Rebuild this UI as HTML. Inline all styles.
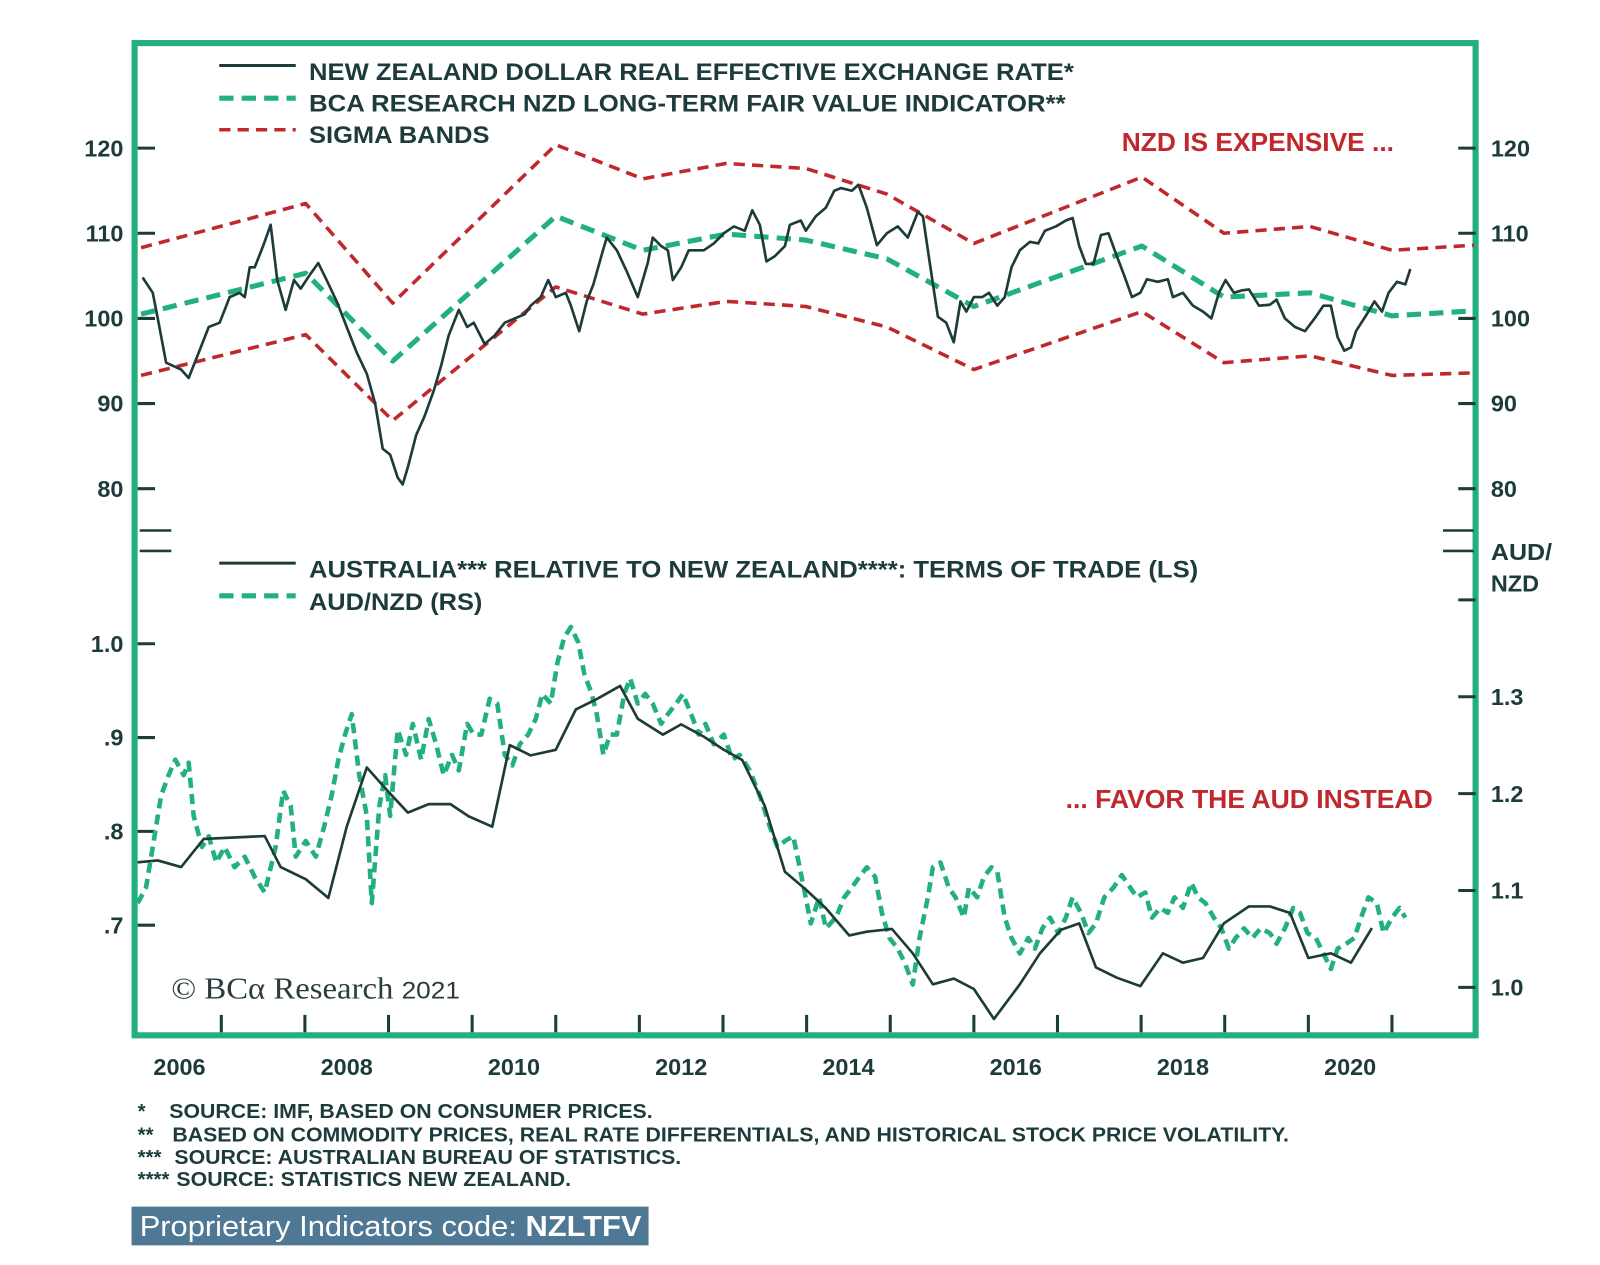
<!DOCTYPE html>
<html><head><meta charset="utf-8"><style>
html,body{margin:0;padding:0;background:#fff;}
svg{display:block;font-family:"Liberation Sans",sans-serif;}
.t{font-weight:bold;fill:#1e3b3b;}
</style></head><body>
<svg id="chart" width="1600" height="1265" viewBox="0 0 1569 1240" xmlns="http://www.w3.org/2000/svg">
<rect x="132" y="42" width="1315" height="973" fill="none" stroke="#22b07f" stroke-width="6"/>
<g id="axes"></g>
<g id="series"></g>
<g>
<line x1="215" y1="64" x2="290" y2="64" stroke="#1e3b3b" stroke-width="3"/>
<line x1="215" y1="96" x2="290" y2="96" stroke="#22b07f" stroke-width="5" stroke-dasharray="14,8"/>
<line x1="215" y1="127" x2="290" y2="127" stroke="#c0282d" stroke-width="3.5" stroke-dasharray="11,7"/>
<text class="t" x="303" y="78" font-size="24" textLength="750" lengthAdjust="spacingAndGlyphs">NEW ZEALAND DOLLAR REAL EFFECTIVE EXCHANGE RATE*</text>
<text class="t" x="303" y="109" font-size="24" textLength="742" lengthAdjust="spacingAndGlyphs">BCA RESEARCH NZD LONG-TERM FAIR VALUE INDICATOR**</text>
<text class="t" x="303" y="140" font-size="24" textLength="177" lengthAdjust="spacingAndGlyphs">SIGMA BANDS</text>
</g>
<g>
<line x1="215" y1="552" x2="290" y2="552" stroke="#1e3b3b" stroke-width="3"/>
<line x1="215" y1="584" x2="290" y2="584" stroke="#22b07f" stroke-width="5" stroke-dasharray="14,8"/>
<text class="t" x="303" y="566" font-size="24" textLength="872" lengthAdjust="spacingAndGlyphs">AUSTRALIA*** RELATIVE TO NEW ZEALAND****: TERMS OF TRADE (LS)</text>
<text class="t" x="303" y="598" font-size="24" textLength="170" lengthAdjust="spacingAndGlyphs">AUD/NZD (RS)</text>
</g>
<text x="1100" y="148" font-size="25" font-weight="bold" fill="#c0282d" textLength="267" lengthAdjust="spacingAndGlyphs">NZD IS EXPENSIVE ...</text>
<text x="1045" y="792" font-size="25" font-weight="bold" fill="#c0282d" textLength="360" lengthAdjust="spacingAndGlyphs">... FAVOR THE AUD INSTEAD</text>
<text class="t" x="1462" y="549" font-size="23" textLength="60" lengthAdjust="spacingAndGlyphs">AUD/</text>
<text class="t" x="1462" y="580" font-size="23">NZD</text>
<text x="168" y="979" font-size="30" fill="#2a3c3c" font-family="Liberation Serif,serif" textLength="283" lengthAdjust="spacingAndGlyphs">© BCα Research <tspan font-size="24" font-family="Liberation Sans,sans-serif">2021</tspan></text>
<g font-size="20" font-weight="bold" fill="#1e3b3b">
<text x="135" y="1096">*</text><text x="166" y="1096" textLength="474" lengthAdjust="spacingAndGlyphs">SOURCE: IMF, BASED ON CONSUMER PRICES.</text>
<text x="135" y="1119">**</text><text x="169" y="1119" textLength="1095" lengthAdjust="spacingAndGlyphs">BASED ON COMMODITY PRICES, REAL RATE DIFFERENTIALS, AND HISTORICAL STOCK PRICE VOLATILITY.</text>
<text x="135" y="1141">***</text><text x="171" y="1141" textLength="497" lengthAdjust="spacingAndGlyphs">SOURCE: AUSTRALIAN BUREAU OF STATISTICS.</text>
<text x="135" y="1163">****</text><text x="173" y="1163" textLength="387" lengthAdjust="spacingAndGlyphs">SOURCE: STATISTICS NEW ZEALAND.</text>
</g>
<rect x="129" y="1183" width="507" height="38" fill="#4e7893"/>
<text x="137" y="1212" font-size="28" fill="#fff" textLength="492" lengthAdjust="spacingAndGlyphs">Proprietary Indicators code: <tspan font-weight="bold">NZLTFV</tspan></text>
</svg>
<script>
// ---- data ----
const reerYears=[2006.06,2006.18,2006.24,2006.34,2006.52,2006.61,2006.73,2006.85,2006.98,2007.10,2007.22,2007.28,2007.34,2007.40,2007.50,2007.59,2007.67,2007.77,2007.87,2007.95,2008.05,2008.16,2008.26,2008.38,2008.50,2008.62,2008.74,2008.84,2008.93,2009.02,2009.11,2009.17,2009.23,2009.33,2009.43,2009.54,2009.63,2009.72,2009.84,2009.94,2010.02,2010.15,2010.27,2010.39,2010.51,2010.63,2010.70,2010.82,2010.91,2011.00,2011.12,2011.18,2011.28,2011.37,2011.45,2011.55,2011.61,2011.73,2011.85,2011.98,2012.10,2012.16,2012.26,2012.34,2012.40,2012.50,2012.59,2012.77,2012.89,2013.01,2013.13,2013.26,2013.35,2013.44,2013.52,2013.62,2013.74,2013.80,2013.93,2013.99,2014.11,2014.23,2014.33,2014.41,2014.54,2014.62,2014.72,2014.84,2014.96,2015.09,2015.21,2015.33,2015.39,2015.48,2015.57,2015.67,2015.76,2015.84,2015.91,2016.00,2016.10,2016.18,2016.28,2016.37,2016.45,2016.55,2016.67,2016.77,2016.85,2016.98,2017.10,2017.18,2017.26,2017.34,2017.43,2017.52,2017.61,2017.71,2017.80,2017.89,2017.99,2018.07,2018.20,2018.32,2018.38,2018.50,2018.62,2018.74,2018.84,2018.93,2019.01,2019.11,2019.21,2019.29,2019.41,2019.54,2019.62,2019.72,2019.84,2019.96,2020.09,2020.18,2020.27,2020.35,2020.43,2020.51,2020.57,2020.70,2020.79,2020.88,2020.96,2021.06,2021.16,2021.22];
const reerValues=[104.8,103,100,94.8,94,93,96,99,99.5,102.5,103,102.5,106,106,108.5,111,104.5,101,104.5,103.5,105,106.5,104.5,102,99,96,93.5,90,84.7,84,81.3,80.5,82.5,86.3,88.5,91.5,94.5,98,101,99,99.5,97,98,99.5,100,100.5,101.5,102.5,104.5,102.5,103,101.5,98.5,102,104,107.5,109.5,108,105.5,102.5,106.5,109.5,108.5,108,104.5,106,108,108,108.8,110,110.8,110.3,112.7,111,106.7,107.3,108.5,111,111.5,110.3,112,113,115,115.3,115,115.7,113,108.6,110,110.8,109.5,112.5,112,106,100.2,99.5,97.2,102,100.8,102.5,102.5,103,101.5,102.5,106,108,109,108.8,110.3,110.8,111.5,111.8,108.5,106.4,106.4,109.8,110,107.3,105,102.5,103,104.6,104.3,104.6,102.5,103,101.5,100.8,100,103,104.5,103,103.3,103.4,101.5,101.6,102.2,100,99,98.5,100.2,101.5,101.5,97.8,96.2,96.6,98.5,100.5,102,100.8,103,104.3,104,105.8];
const bandYears=[2006.04,2008.01,2009.05,2011.0,2012.04,2013.04,2013.99,2014.96,2016.0,2018.01,2018.99,2020.02,2021.0,2021.98];
const fairValues=[100.5,105.3,95,112,108,109.9,109.2,107,101.4,108.5,102.5,103,100.3,100.9];
const upperBand=[108.3,113.5,101.8,120.4,116.4,118.2,117.6,114.6,108.8,116.6,110,110.8,108,108.6];
const lowerBand=[93.3,98.1,88,103.7,100.5,102,101.4,99,94,100.8,94.8,95.6,93.3,93.6];
const totYears=[2006.00,2006.24,2006.52,2006.79,2007.52,2007.71,2008.01,2008.28,2008.50,2008.74,2008.99,2009.23,2009.48,2009.74,2009.96,2010.24,2010.45,2010.70,2011.00,2011.24,2011.49,2011.77,2011.98,2012.28,2012.50,2012.77,2013.01,2013.23,2013.50,2013.74,2013.99,2014.23,2014.51,2014.72,2015.02,2015.27,2015.51,2015.76,2016.00,2016.24,2016.55,2016.79,2017.04,2017.26,2017.46,2017.71,2017.99,2018.26,2018.50,2018.74,2018.99,2019.29,2019.54,2019.78,2020.00,2020.27,2020.51,2020.76];
const totValues=[.767,.769,.762,.792,.795,.762,.749,.729,.805,.868,.843,.82,.829,.829,.816,.805,.892,.881,.887,.93,.941,.955,.92,.903,.914,.901,.887,.876,.827,.757,.738,.718,.689,.693,.696,.670,.637,.643,.632,.6,.637,.67,.695,.702,.655,.644,.635,.67,.66,.665,.702,.72,.72,.713,.665,.67,.66,.697];
const audYears=[2006.00,2006.10,2006.18,2006.28,2006.37,2006.45,2006.55,2006.61,2006.67,2006.77,2006.85,2006.94,2007.04,2007.16,2007.28,2007.40,2007.52,2007.65,2007.74,2007.83,2007.89,2008.01,2008.13,2008.23,2008.32,2008.40,2008.48,2008.56,2008.65,2008.74,2008.80,2008.89,2008.96,2009.02,2009.11,2009.21,2009.29,2009.39,2009.48,2009.57,2009.66,2009.76,2009.84,2009.94,2010.02,2010.11,2010.21,2010.30,2010.39,2010.48,2010.57,2010.67,2010.76,2010.84,2010.94,2011.02,2011.10,2011.18,2011.27,2011.34,2011.43,2011.49,2011.57,2011.65,2011.73,2011.82,2011.89,2011.98,2012.07,2012.16,2012.26,2012.34,2012.44,2012.52,2012.62,2012.71,2012.79,2012.89,2013.01,2013.11,2013.20,2013.32,2013.44,2013.56,2013.65,2013.74,2013.84,2013.94,2014.05,2014.15,2014.23,2014.35,2014.45,2014.54,2014.63,2014.72,2014.82,2014.90,2014.99,2015.09,2015.18,2015.27,2015.35,2015.45,2015.51,2015.60,2015.70,2015.78,2015.88,2015.94,2016.04,2016.12,2016.21,2016.28,2016.37,2016.45,2016.55,2016.65,2016.73,2016.82,2016.91,2017.01,2017.10,2017.18,2017.28,2017.37,2017.46,2017.56,2017.67,2017.77,2017.87,2017.95,2018.05,2018.13,2018.23,2018.32,2018.40,2018.50,2018.60,2018.68,2018.77,2018.87,2018.96,2019.05,2019.13,2019.23,2019.33,2019.43,2019.54,2019.62,2019.72,2019.82,2019.90,2019.99,2020.09,2020.18,2020.27,2020.35,2020.45,2020.55,2020.63,2020.72,2020.82,2020.90,2021.00,2021.09,2021.16];
const audValues=[1.087,1.103,1.145,1.198,1.219,1.235,1.219,1.232,1.177,1.145,1.156,1.129,1.145,1.124,1.135,1.114,1.098,1.145,1.203,1.187,1.135,1.151,1.135,1.166,1.198,1.235,1.261,1.282,1.219,1.177,1.087,1.187,1.219,1.177,1.266,1.24,1.272,1.235,1.277,1.251,1.219,1.24,1.224,1.272,1.261,1.261,1.298,1.293,1.24,1.229,1.251,1.261,1.277,1.303,1.293,1.335,1.361,1.372,1.356,1.324,1.303,1.282,1.24,1.261,1.261,1.303,1.319,1.293,1.303,1.293,1.272,1.282,1.293,1.303,1.282,1.261,1.272,1.251,1.261,1.235,1.24,1.224,1.198,1.166,1.145,1.151,1.156,1.114,1.066,1.093,1.061,1.072,1.093,1.103,1.114,1.124,1.114,1.077,1.051,1.04,1.024,1.003,1.051,1.093,1.124,1.129,1.103,1.093,1.072,1.103,1.093,1.114,1.124,1.119,1.072,1.051,1.035,1.051,1.04,1.061,1.072,1.056,1.072,1.093,1.077,1.056,1.066,1.093,1.103,1.116,1.103,1.093,1.098,1.072,1.082,1.077,1.093,1.082,1.108,1.093,1.087,1.072,1.061,1.04,1.051,1.061,1.051,1.061,1.056,1.045,1.061,1.082,1.077,1.056,1.051,1.035,1.019,1.04,1.045,1.051,1.072,1.093,1.087,1.056,1.072,1.082,1.072];
const upperTicks=[120,110,100,90,80];
const leftLowerTicks=[1.0,.9,.8,.7];
const leftLowerLabels=["1.0",".9",".8",".7"];
const rightLowerTicks=[1.4,1.3,1.2,1.1,1.0];
const rightLowerLabels=["","1.3","1.2","1.1","1.0"];
const yearLabels=[2006,2008,2010,2012,2014,2016,2018,2020];
// ---- scales ----
const X=t=>135+(t-2006)*82;
const YU=v=>312-(v-100)*8.35;
const YL=v=>907-(v-0.7)*920;
const YR=v=>968-(v-1.0)*950;
const NS="http://www.w3.org/2000/svg";
const axes=document.getElementById('axes'), ser=document.getElementById('series');
function mk(tag,parent,attrs){const e=document.createElementNS(NS,tag);for(const k in attrs)e.setAttribute(k,attrs[k]);parent.appendChild(e);return e;}
function txt(parent,x,y,s,anchor,size){const e=mk('text',parent,{x:x,y:y,'text-anchor':anchor,'font-size':size,'class':'t'});e.textContent=s;return e;}
const tickC="#1e3b3b";
upperTicks.forEach(v=>{
  const y=YU(v);
  const l=mk('line',axes,{x1:135,x2:152,y1:y,y2:y,stroke:tickC,'stroke-width':3});
  
  
  const r=mk('line',axes,{x1:1430,x2:1447,y1:y,y2:y,stroke:tickC,'stroke-width':3});
  
  
  const a=txt(axes,121,y+8,String(v),'end',23);
  
  
  const b=txt(axes,1462,y+8,String(v),'start',23);
  
  
});
[520,540].forEach(y=>{
  const a=mk('line',axes,{x1:137,x2:168,y1:y,y2:y,stroke:tickC,'stroke-width':2.5});
  
  
  const b=mk('line',axes,{x1:1415,x2:1445,y1:y,y2:y,stroke:tickC,'stroke-width':2.5});
  
  
});
leftLowerTicks.forEach((v,i)=>{
  const y=YL(v);
  const l=mk('line',axes,{x1:135,x2:152,y1:y,y2:y,stroke:tickC,'stroke-width':3});
  
  
  const a=txt(axes,121,y+8,leftLowerLabels[i],'end',23);
  
  
});
rightLowerTicks.forEach((v,i)=>{
  const y=YR(v);
  const l=mk('line',axes,{x1:1430,x2:1447,y1:y,y2:y,stroke:tickC,'stroke-width':3});
  
  
  const a=txt(axes,1462,y+8,rightLowerLabels[i],'start',23);
  
  
});
for(let yr=2007;yr<=2021;yr++){
  const x=X(yr);
  const l=mk('line',axes,{x1:x,x2:x,y1:995,y2:1012,stroke:tickC,'stroke-width':3});
  
  
}
yearLabels.forEach(yr=>{
  const a=txt(axes,X(yr+0.5),1054,String(yr),'middle',23);
  
  
});
function path(xs,vs,ys,attrs){
  const d=xs.map((t,i)=>(i?'L':'M')+X(t).toFixed(1)+','+ys(vs[i]).toFixed(1)).join(' ');
  const p=mk('path',ser,Object.assign({d:d,fill:'none','stroke-linejoin':'round'},attrs));
  return p;
}
const rs={stroke:'#c0282d','stroke-width':3.5,'stroke-dasharray':'11,7'};
let p=path(bandYears,upperBand,YU,rs);


p=path(bandYears,lowerBand,YU,rs);


p=path(bandYears,fairValues,YU,{stroke:'#22b07f','stroke-width':5,'stroke-dasharray':'14,8'});


p=path(reerYears,reerValues,YU,{stroke:'#1e3b3b','stroke-width':2.6});


p=path(audYears,audValues,YR,{stroke:'#22b07f','stroke-width':4.5,'stroke-dasharray':'10,6'});


p=path(totYears,totValues,YL,{stroke:'#1e3b3b','stroke-width':2.6});


</script>
</body></html>
